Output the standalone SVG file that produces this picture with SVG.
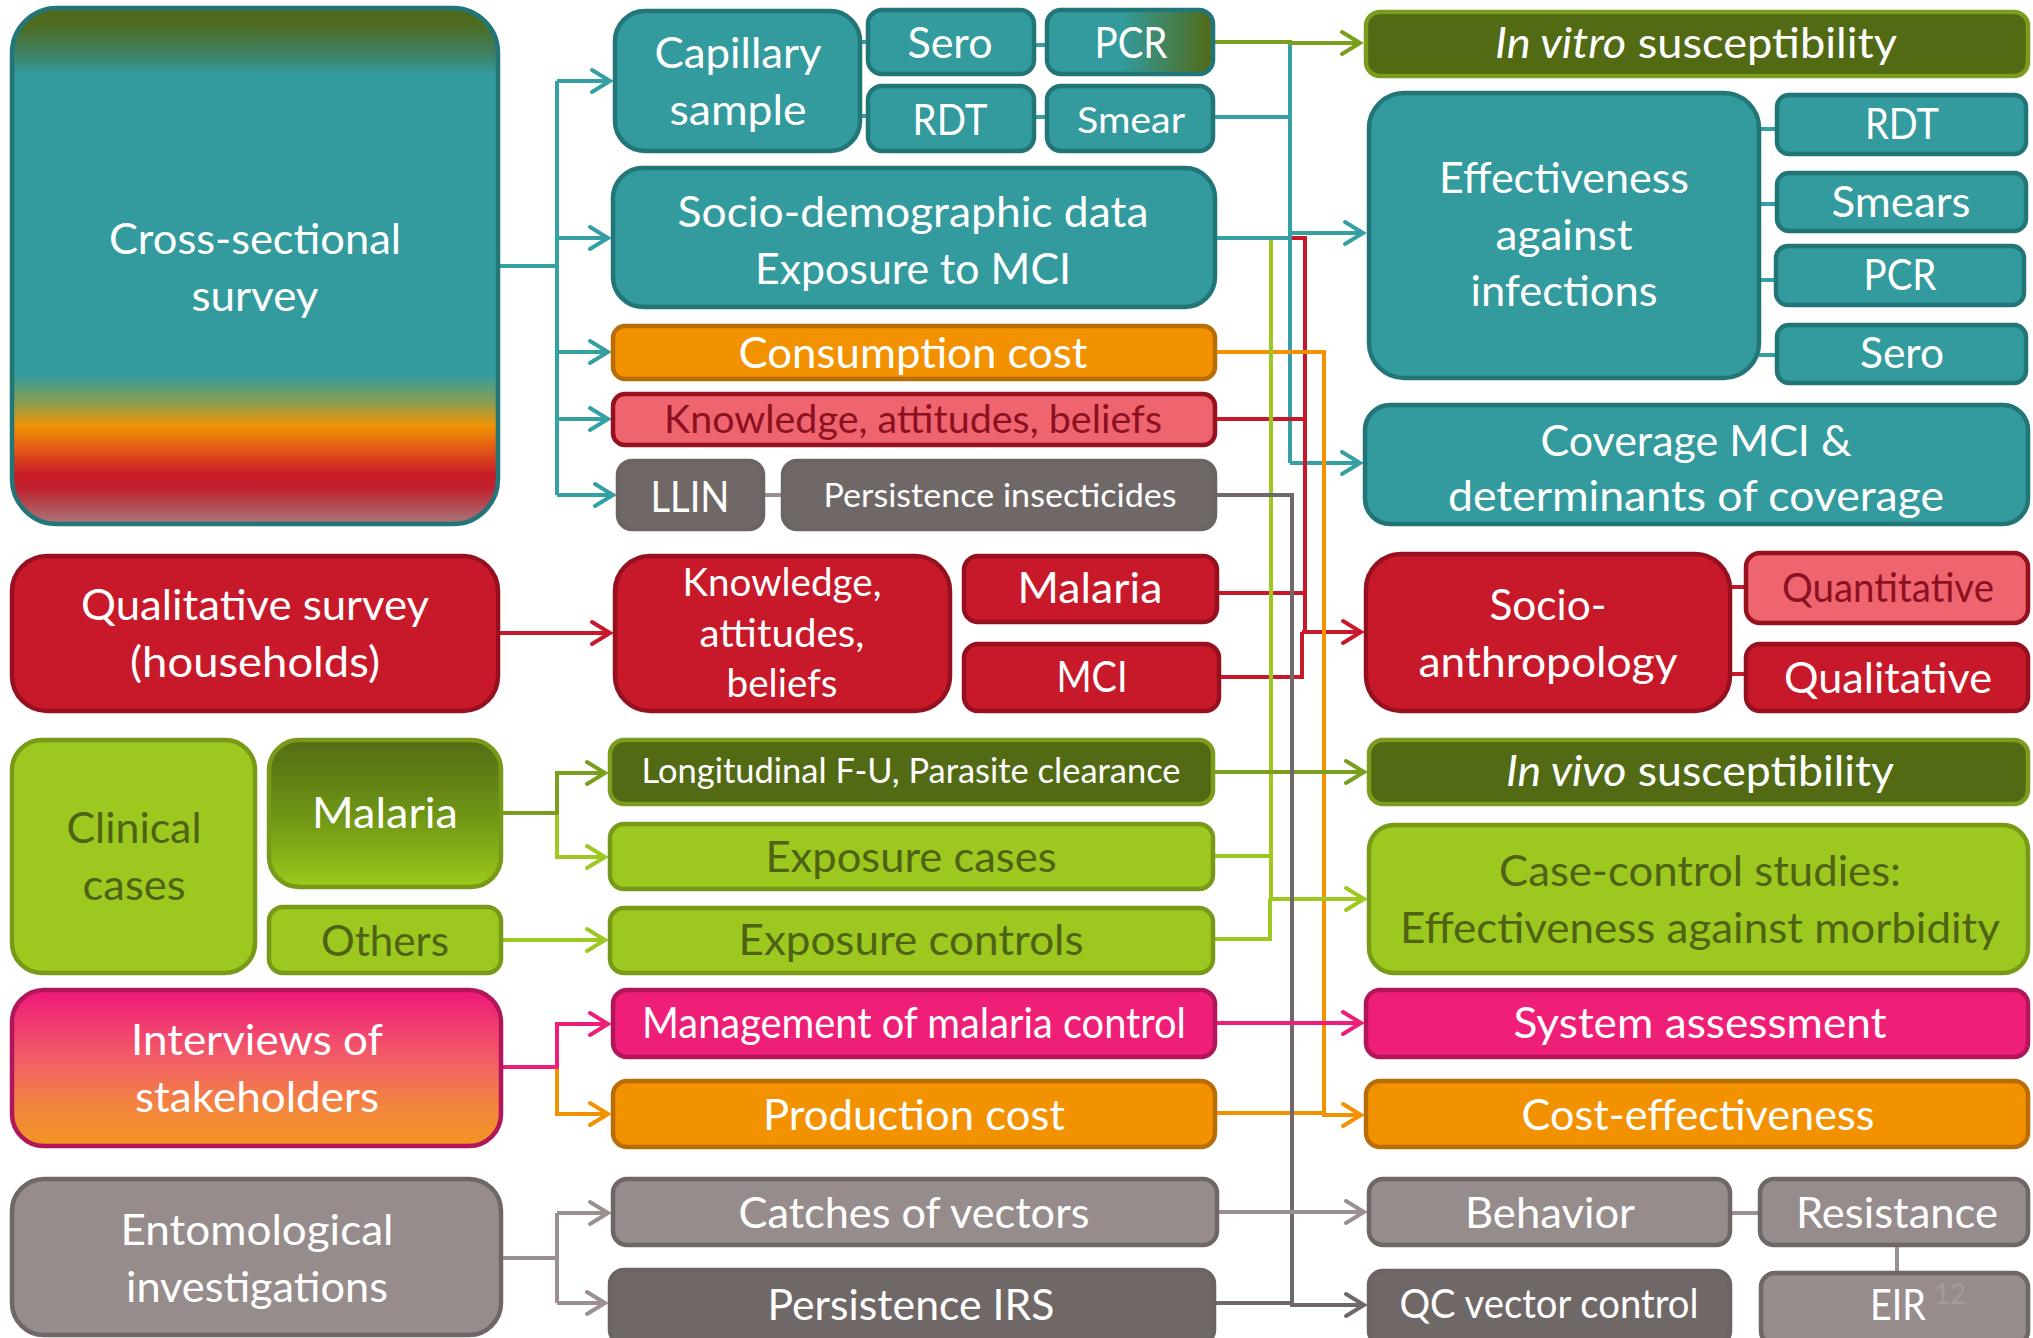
<svg xmlns="http://www.w3.org/2000/svg" width="2033" height="1338" viewBox="0 0 2033 1338">
<defs>
<style>
.b{stroke-width:4.5}
.teal{fill:#339B9D;stroke:#237678}
.red{fill:#C8192A;stroke:#961020}
.pinkl{fill:#EE6570;stroke:#961020}
.orange{fill:#F39200;stroke:#B96D08}
.gd{fill:#706867;stroke:#6C6463}
.gl{fill:#968C8B;stroke:#6F6766}
.olive{fill:#526A14;stroke:#7B9C1C}
.lg{fill:#9DC81F;stroke:#789A18}
.mag{fill:#EF1F78;stroke:#B1165A}
text{font-family:Lato,"Open Sans","Liberation Sans",sans-serif;fill:#FFFFFF;text-anchor:middle;font-size:42px}
text.dg{fill:#4E6414}
text.dr{fill:#8C1020}
.c{fill:none;stroke-width:4;stroke-linejoin:miter}
.cT{stroke:#35A0A3}.cO{stroke:#7A9E1E}.cL{stroke:#9DC81F}.cR{stroke:#C8192A}
.cY{stroke:#F39200}.cD{stroke:#706868}.cG{stroke:#9A9090}.cM{stroke:#EE1F78}
</style>
<linearGradient id="gCross" x1="0" y1="0" x2="0" y2="1">
<stop offset="0" stop-color="#4E6A1C"/>
<stop offset="0.03" stop-color="#4E6A1C"/>
<stop offset="0.09" stop-color="#3E8266"/>
<stop offset="0.13" stop-color="#339B9D"/>
<stop offset="0.71" stop-color="#339B9D"/>
<stop offset="0.765" stop-color="#8A9E50"/>
<stop offset="0.81" stop-color="#F29305"/>
<stop offset="0.86" stop-color="#E05219"/>
<stop offset="0.905" stop-color="#C71B28"/>
<stop offset="0.93" stop-color="#C0202E"/>
<stop offset="1" stop-color="#A8787C"/>
</linearGradient>
<linearGradient id="gInt" x1="0" y1="0" x2="0" y2="1">
<stop offset="0.05" stop-color="#EF1F78"/>
<stop offset="0.45" stop-color="#F25F66"/>
<stop offset="0.75" stop-color="#F3853F"/>
<stop offset="1" stop-color="#F39420"/>
</linearGradient>
<linearGradient id="gMal" x1="0" y1="0" x2="0" y2="1">
<stop offset="0" stop-color="#546C14"/>
<stop offset="0.5" stop-color="#6E9416"/>
<stop offset="0.85" stop-color="#8DB818"/>
<stop offset="1" stop-color="#9DCC1A"/>
</linearGradient>
<linearGradient id="gPcr" x1="0" y1="0" x2="1" y2="0">
<stop offset="0" stop-color="#339B9D"/>
<stop offset="0.45" stop-color="#339B9D"/>
<stop offset="1" stop-color="#526A14"/>
</linearGradient>
<marker id="aT" markerUnits="userSpaceOnUse" markerWidth="26" markerHeight="28" viewBox="-22 -14 26 28" refX="0" refY="0" orient="auto"><path d="M-18,-11 L0,0 L-18,11" fill="none" stroke="#35A0A3" stroke-width="4" stroke-linecap="round"/></marker>
<marker id="aO" markerUnits="userSpaceOnUse" markerWidth="26" markerHeight="28" viewBox="-22 -14 26 28" refX="0" refY="0" orient="auto"><path d="M-18,-11 L0,0 L-18,11" fill="none" stroke="#7A9E1E" stroke-width="4" stroke-linecap="round"/></marker>
<marker id="aL" markerUnits="userSpaceOnUse" markerWidth="26" markerHeight="28" viewBox="-22 -14 26 28" refX="0" refY="0" orient="auto"><path d="M-18,-11 L0,0 L-18,11" fill="none" stroke="#9DC81F" stroke-width="4" stroke-linecap="round"/></marker>
<marker id="aR" markerUnits="userSpaceOnUse" markerWidth="26" markerHeight="28" viewBox="-22 -14 26 28" refX="0" refY="0" orient="auto"><path d="M-18,-11 L0,0 L-18,11" fill="none" stroke="#C8192A" stroke-width="4" stroke-linecap="round"/></marker>
<marker id="aY" markerUnits="userSpaceOnUse" markerWidth="26" markerHeight="28" viewBox="-22 -14 26 28" refX="0" refY="0" orient="auto"><path d="M-18,-11 L0,0 L-18,11" fill="none" stroke="#F39200" stroke-width="4" stroke-linecap="round"/></marker>
<marker id="aD" markerUnits="userSpaceOnUse" markerWidth="26" markerHeight="28" viewBox="-22 -14 26 28" refX="0" refY="0" orient="auto"><path d="M-18,-11 L0,0 L-18,11" fill="none" stroke="#706868" stroke-width="4" stroke-linecap="round"/></marker>
<marker id="aG" markerUnits="userSpaceOnUse" markerWidth="26" markerHeight="28" viewBox="-22 -14 26 28" refX="0" refY="0" orient="auto"><path d="M-18,-11 L0,0 L-18,11" fill="none" stroke="#9A9090" stroke-width="4" stroke-linecap="round"/></marker>
<marker id="aM" markerUnits="userSpaceOnUse" markerWidth="26" markerHeight="28" viewBox="-22 -14 26 28" refX="0" refY="0" orient="auto"><path d="M-18,-11 L0,0 L-18,11" fill="none" stroke="#EE1F78" stroke-width="4" stroke-linecap="round"/></marker>
</defs>
<rect width="2033" height="1338" fill="#FFFFFF"/>

<g id="connectors">
<path class="c cT" d="M500,266 H557"/>
<path class="c cT" d="M557,81 V495"/>
<path class="c cT" d="M557,81 H610" marker-end="url(#aT)"/>
<path class="c cT" d="M557,238 H608" marker-end="url(#aT)"/>
<path class="c cT" d="M557,352 H608" marker-end="url(#aT)"/>
<path class="c cT" d="M557,419 H608" marker-end="url(#aT)"/>
<path class="c cT" d="M557,495 H613" marker-end="url(#aT)"/>
<path class="c cT" d="M860,42 H868 M860,116 H868 M1034,45 H1047 M1034,117 H1047"/>
<path class="c cG" d="M763,495 H783"/>
<path class="c cT" d="M1290,43 V463"/>
<path class="c cT" d="M1215,117 H1290"/>
<path class="c cT" d="M1217,238 H1290"/>
<path class="c cT" d="M1290,233 H1363" marker-end="url(#aT)"/>
<path class="c cT" d="M1290,463 H1360" marker-end="url(#aT)"/>
<path class="c cO" d="M1215,42 H1290 V43 H1360" marker-end="url(#aO)"/>
<path class="c cR" d="M1292,238 H1305 V632"/>
<path class="c cR" d="M1217,419 H1305"/>
<path class="c cR" d="M1219,593 H1305"/>
<path class="c cR" d="M1221,677 H1302 V632"/>
<path class="c cR" d="M1302,632 H1361" marker-end="url(#aR)"/>
<path class="c cR" d="M500,633 H610" marker-end="url(#aR)"/>
<path class="c cY" d="M1217,352 H1324 V1115 H1361" marker-end="url(#aY)"/>
<path class="c cY" d="M1217,1113 H1324"/>
<path class="c cY" d="M557,1067 V1114 H608" marker-end="url(#aY)"/>
<path class="c cL" d="M1271,240 V899 H1364" marker-end="url(#aL)"/>
<path class="c cL" d="M1215,856 H1272"/>
<path class="c cL" d="M1215,939 H1270 V899"/>
<path class="c cL" d="M557,813 V857 H605" marker-end="url(#aL)"/>
<path class="c cL" d="M503,940 H605" marker-end="url(#aL)"/>
<path class="c cO" d="M503,813 H557 V773 H605" marker-end="url(#aO)"/>
<path class="c cO" d="M1215,772 H1364" marker-end="url(#aO)"/>
<path class="c cD" d="M1217,495 H1292 V1305 H1364" marker-end="url(#aD)"/>
<path class="c cD" d="M1216,1303 H1292"/>
<path class="c cG" d="M503,1258 H557 M557,1213 V1303"/>
<path class="c cG" d="M557,1213 H608" marker-end="url(#aG)"/>
<path class="c cG" d="M557,1303 H605" marker-end="url(#aG)"/>
<path class="c cG" d="M1219,1212 H1364" marker-end="url(#aG)"/>
<path class="c cG" d="M1730,1213 H1760 M1897,1245 V1273"/>
<path class="c cM" d="M503,1067 H557 V1024 H608" marker-end="url(#aM)"/>
<path class="c cM" d="M1217,1023 H1361" marker-end="url(#aM)"/>
<path class="c cT" d="M1759,129 H1777 M1759,204 H1777 M1759,280 H1776 M1759,355 H1777"/>
<path class="c cR" d="M1730,587 H1746 M1730,674 H1746"/>
</g>

<g id="n-cross"><rect class="b" x="12" y="8" width="486" height="516" rx="45" fill="url(#gCross)" stroke="#237678"/>
<text x="255" y="254" textLength="292" lengthAdjust="spacingAndGlyphs">Cross-sectional</text>
<text x="255" y="311" textLength="127" lengthAdjust="spacingAndGlyphs">survey</text></g>
<g id="n-qual"><rect class="b red" x="12" y="556" width="486" height="155" rx="35"/>
<text x="255" y="620" textLength="348" lengthAdjust="spacingAndGlyphs">Qualitative survey</text>
<text x="255" y="677" textLength="250" lengthAdjust="spacingAndGlyphs">(households)</text></g>
<g id="n-clinical"><rect class="b lg" x="12" y="740" width="243" height="233" rx="30"/>
<text class="dg" x="134" y="843" textLength="135" lengthAdjust="spacingAndGlyphs">Clinical</text>
<text class="dg" x="134" y="900" textLength="103" lengthAdjust="spacingAndGlyphs">cases</text></g>
<g id="n-malaria-g"><rect class="b" x="269" y="740" width="232" height="147" rx="30" fill="url(#gMal)" stroke="#789A18"/>
<text x="385" y="828" textLength="146" lengthAdjust="spacingAndGlyphs">Malaria</text></g>
<g id="n-others"><rect class="b lg" x="269" y="907" width="232" height="66" rx="14"/>
<text class="dg" x="385" y="956" textLength="128" lengthAdjust="spacingAndGlyphs">Others</text></g>
<g id="n-interviews"><rect class="b" x="12" y="990" width="489" height="156" rx="32" fill="url(#gInt)" stroke="#B1165A"/>
<text x="257" y="1055" textLength="252" lengthAdjust="spacingAndGlyphs">Interviews of</text>
<text x="257" y="1112" textLength="244" lengthAdjust="spacingAndGlyphs">stakeholders</text></g>
<g id="n-ento"><rect class="b gl" x="12" y="1179" width="489" height="156" rx="32"/>
<text x="257" y="1245" textLength="273" lengthAdjust="spacingAndGlyphs">Entomological</text>
<text x="257" y="1302" textLength="262" lengthAdjust="spacingAndGlyphs">investigations</text></g>

<g id="n-capillary"><rect class="b teal" x="615" y="11" width="245" height="140" rx="30"/>
<text x="738" y="68" textLength="167" lengthAdjust="spacingAndGlyphs">Capillary</text>
<text x="738" y="125" textLength="137" lengthAdjust="spacingAndGlyphs">sample</text></g>
<g id="n-sero"><rect class="b teal" x="868" y="10" width="166" height="64" rx="14"/>
<text x="950" y="58" textLength="85" lengthAdjust="spacingAndGlyphs">Sero</text></g>
<g id="n-pcr"><rect class="b" x="1047" y="10" width="166" height="64" rx="14" fill="url(#gPcr)" stroke="#237678"/>
<text x="1131" y="58" textLength="73" lengthAdjust="spacingAndGlyphs">PCR</text></g>
<g id="n-rdt"><rect class="b teal" x="868" y="86" width="166" height="65" rx="14"/>
<text x="950" y="135" textLength="75" lengthAdjust="spacingAndGlyphs">RDT</text></g>
<g id="n-smear"><rect class="b teal" x="1047" y="86" width="166" height="65" rx="14"/>
<text x="1131" y="133" style="font-size:37px" textLength="108" lengthAdjust="spacingAndGlyphs">Smear</text></g>
<g id="n-sociodemo"><rect class="b teal" x="613" y="168" width="602" height="139" rx="30"/>
<text x="913" y="227" textLength="471" lengthAdjust="spacingAndGlyphs">Socio-demographic data</text>
<text x="913" y="284" textLength="316" lengthAdjust="spacingAndGlyphs">Exposure to MCI</text></g>
<g id="n-consumption"><rect class="b orange" x="613" y="326" width="602" height="53" rx="12"/>
<text x="913" y="368" textLength="349" lengthAdjust="spacingAndGlyphs">Consumption cost</text></g>
<g id="n-kab1"><rect class="b pinkl" x="613" y="394" width="602" height="51" rx="12"/>
<text class="dr" x="913" y="433" style="font-size:38px" textLength="498" lengthAdjust="spacingAndGlyphs">Knowledge, attitudes, beliefs</text></g>
<g id="n-llin"><rect class="b gd" x="618" y="461" width="145" height="68" rx="14"/>
<text x="690" y="512" textLength="79" lengthAdjust="spacingAndGlyphs">LLIN</text></g>
<g id="n-persins"><rect class="b gd" x="783" y="461" width="432" height="68" rx="14"/>
<text x="1000" y="507" style="font-size:33px" textLength="353" lengthAdjust="spacingAndGlyphs">Persistence insecticides</text></g>
<g id="n-kab2"><rect class="b red" x="615" y="556" width="335" height="155" rx="35"/>
<text x="782" y="596" style="font-size:38px" textLength="199" lengthAdjust="spacingAndGlyphs">Knowledge,</text>
<text x="782" y="647" style="font-size:38px" textLength="165" lengthAdjust="spacingAndGlyphs">attitudes,</text>
<text x="782" y="697" style="font-size:38px" textLength="111" lengthAdjust="spacingAndGlyphs">beliefs</text></g>
<g id="n-malaria-r"><rect class="b red" x="964" y="556" width="253" height="66" rx="14"/>
<text x="1090" y="603" textLength="145" lengthAdjust="spacingAndGlyphs">Malaria</text></g>
<g id="n-mci"><rect class="b red" x="964" y="644" width="255" height="67" rx="14"/>
<text x="1092" y="692" textLength="71" lengthAdjust="spacingAndGlyphs">MCI</text></g>
<g id="n-longit"><rect class="b olive" x="610" y="740" width="603" height="64" rx="14"/>
<text x="911" y="783" style="font-size:35px" textLength="539" lengthAdjust="spacingAndGlyphs">Longitudinal F-U, Parasite clearance</text></g>
<g id="n-expcases"><rect class="b lg" x="610" y="824" width="603" height="65" rx="14"/>
<text class="dg" x="911" y="872" textLength="291" lengthAdjust="spacingAndGlyphs">Exposure cases</text></g>
<g id="n-expcontrols"><rect class="b lg" x="610" y="908" width="603" height="65" rx="14"/>
<text class="dg" x="911" y="955" textLength="345" lengthAdjust="spacingAndGlyphs">Exposure controls</text></g>
<g id="n-management"><rect class="b mag" x="613" y="990" width="602" height="67" rx="14"/>
<text x="914" y="1038" textLength="544" lengthAdjust="spacingAndGlyphs">Management of malaria control</text></g>
<g id="n-production"><rect class="b orange" x="613" y="1081" width="602" height="66" rx="14"/>
<text x="914" y="1130" textLength="302" lengthAdjust="spacingAndGlyphs">Production cost</text></g>
<g id="n-catches"><rect class="b gl" x="613" y="1179" width="604" height="66" rx="14"/>
<text x="914" y="1228" textLength="351" lengthAdjust="spacingAndGlyphs">Catches of vectors</text></g>
<g id="n-persirs"><rect class="b gd" x="610" y="1270" width="604" height="74" rx="14"/>
<text x="911" y="1320" textLength="287" lengthAdjust="spacingAndGlyphs">Persistence IRS</text></g>

<g id="n-invitro"><rect class="b olive" x="1366" y="12" width="662" height="64" rx="14"/>
<text x="1696" y="58" textLength="402" lengthAdjust="spacingAndGlyphs"><tspan font-style="italic">In vitro</tspan> susceptibility</text></g>
<g id="n-effect"><rect class="b teal" x="1369" y="93" width="390" height="285" rx="35"/>
<text x="1564" y="193" textLength="250" lengthAdjust="spacingAndGlyphs">Effectiveness</text>
<text x="1564" y="250" textLength="137" lengthAdjust="spacingAndGlyphs">against</text>
<text x="1564" y="306" textLength="187" lengthAdjust="spacingAndGlyphs">infections</text></g>
<g id="n-rdt2"><rect class="b teal" x="1777" y="95" width="249" height="59" rx="12"/>
<text x="1902" y="139" textLength="74" lengthAdjust="spacingAndGlyphs">RDT</text></g>
<g id="n-smears"><rect class="b teal" x="1777" y="173" width="249" height="58" rx="12"/>
<text x="1901" y="217" textLength="139" lengthAdjust="spacingAndGlyphs">Smears</text></g>
<g id="n-pcr2"><rect class="b teal" x="1776" y="246" width="248" height="59" rx="12"/>
<text x="1900" y="290" textLength="73" lengthAdjust="spacingAndGlyphs">PCR</text></g>
<g id="n-sero2"><rect class="b teal" x="1777" y="325" width="249" height="58" rx="12"/>
<text x="1902" y="368" textLength="84" lengthAdjust="spacingAndGlyphs">Sero</text></g>
<g id="n-coverage"><rect class="b teal" x="1365" y="405" width="663" height="119" rx="25"/>
<text x="1696" y="456" textLength="311" lengthAdjust="spacingAndGlyphs">Coverage MCI &amp;</text>
<text x="1696" y="511" textLength="496" lengthAdjust="spacingAndGlyphs">determinants of coverage</text></g>
<g id="n-socioanth"><rect class="b red" x="1366" y="554" width="364" height="157" rx="35"/>
<text x="1548" y="620" textLength="117" lengthAdjust="spacingAndGlyphs">Socio-</text>
<text x="1548" y="677" textLength="259" lengthAdjust="spacingAndGlyphs">anthropology</text></g>
<g id="n-quant"><rect class="b pinkl" x="1746" y="553" width="282" height="70" rx="14"/>
<text class="dr" x="1888" y="602" style="font-size:40px" textLength="212" lengthAdjust="spacingAndGlyphs">Quantitative</text></g>
<g id="n-qualit"><rect class="b red" x="1746" y="644" width="282" height="67" rx="14"/>
<text x="1888" y="693" textLength="208" lengthAdjust="spacingAndGlyphs">Qualitative</text></g>
<g id="n-invivo"><rect class="b olive" x="1369" y="740" width="659" height="64" rx="14"/>
<text x="1700" y="786" textLength="388" lengthAdjust="spacingAndGlyphs"><tspan font-style="italic">In vivo</tspan> susceptibility</text></g>
<g id="n-casecontrol"><rect class="b lg" x="1369" y="825" width="659" height="148" rx="25"/>
<text class="dg" x="1700" y="886" textLength="402" lengthAdjust="spacingAndGlyphs">Case-control studies:</text>
<text class="dg" x="1700" y="943" textLength="600" lengthAdjust="spacingAndGlyphs">Effectiveness against morbidity</text></g>
<g id="n-system"><rect class="b mag" x="1366" y="990" width="662" height="67" rx="14"/>
<text x="1700" y="1038" textLength="373" lengthAdjust="spacingAndGlyphs">System assessment</text></g>
<g id="n-costeff"><rect class="b orange" x="1366" y="1081" width="662" height="66" rx="14"/>
<text x="1698" y="1130" textLength="353" lengthAdjust="spacingAndGlyphs">Cost-effectiveness</text></g>
<g id="n-behavior"><rect class="b gl" x="1369" y="1179" width="361" height="66" rx="14"/>
<text x="1550" y="1228" textLength="170" lengthAdjust="spacingAndGlyphs">Behavior</text></g>
<g id="n-resistance"><rect class="b gl" x="1760" y="1179" width="268" height="66" rx="14"/>
<text x="1897" y="1228" textLength="202" lengthAdjust="spacingAndGlyphs">Resistance</text></g>
<g id="n-qc"><rect class="b gd" x="1369" y="1271" width="361" height="74" rx="14"/>
<text x="1549" y="1318" style="font-size:40px" textLength="299" lengthAdjust="spacingAndGlyphs">QC vector control</text></g>
<g id="n-eir"><rect class="b gl" x="1761" y="1273" width="267" height="72" rx="14"/>
<text x="1898" y="1320" textLength="56" lengthAdjust="spacingAndGlyphs">EIR</text>
<text x="1950" y="1304" style="font-size:28px;fill:#B8B0B0;fill-opacity:0.45">12</text></g>
</svg>
